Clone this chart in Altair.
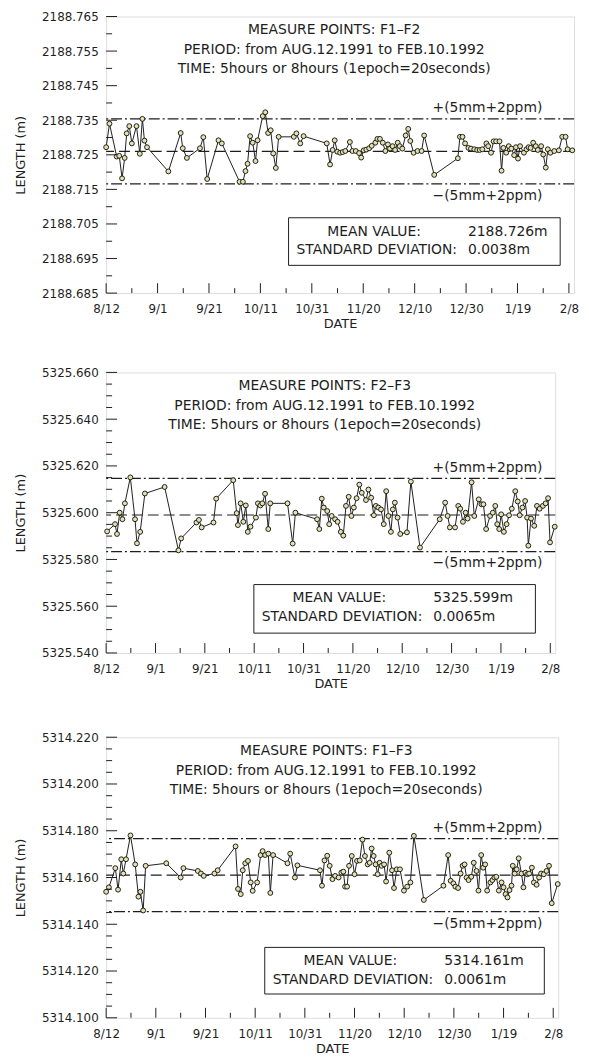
import json
import altair as alt
import pandas as pd

FONT = "DejaVu Sans"
BG = "#FBF8AA"
INK = "#1e1e1e"
MARK_FILL = "#e4e1ae"

# ---- shared x axis (days after AUG.12.1991) ----
X_DOMAIN = [0, 182]
X_TICK_DAYS = [0, 20, 40, 60, 80, 100, 120, 140, 160, 180]
X_TICK_LABELS = ["8/12", "9/1", "9/21", "10/11", "10/31", "11/20", "12/10", "12/30", "1/19", "2/8"]
X_MINOR_DAYS = [10, 30, 50, 70, 90, 110, 130, 150, 170]

PERIOD = "PERIOD: from AUG.12.1991 to FEB.10.1992"
TIME = "TIME: 5hours or 8hours (1epoch=20seconds)"

# ---- F1-F2 ----
P1_DAYS = [0.0, 1.3, 4.1, 5.1, 6.2, 7.2, 8.0, 9.0, 10.0, 11.8, 13.1, 14.1, 14.9, 15.9, 24.2, 29.0, 29.8,
           31.4, 36.5, 37.8, 39.3, 43.7, 45.0, 51.9, 53.2, 54.2, 55.0, 56.0, 57.0, 58.1, 58.9, 60.9, 61.9,
           63.0, 64.0, 65.0, 66.0, 67.1, 73.0, 74.0, 75.5, 76.8, 85.8, 87.1, 88.1, 88.9, 89.9, 91.0, 92.0,
           93.0, 94.8, 95.8, 97.1, 98.4, 99.2, 100.2, 101.2, 102.3, 103.3, 104.7, 105.5, 106.5, 107.6,
           108.6, 109.6, 110.4, 111.4, 112.4, 113.4, 114.2, 115.2, 116.5, 117.5, 118.3, 119.6, 121.1,
           122.7, 123.7, 127.6, 136.8, 137.6, 138.6, 139.6, 140.9, 141.9, 143.2, 144.3, 145.3, 146.3,
           147.9, 148.6, 149.7, 150.7, 151.7, 153.0, 153.8, 154.5, 155.6, 156.6, 157.6, 158.7, 159.4,
           160.2, 161.0, 162.5, 163.5, 164.3, 165.1, 166.1, 167.1, 167.9, 169.2, 170.0, 171.0, 171.8,
           172.8, 174.3, 176.1, 177.4, 178.7, 179.5, 181.3]
P1_LENGTH = [2188.7272, 2188.7340, 2188.7245, 2188.7247, 2188.7182, 2188.7241, 2188.7312, 2188.7333,
             2188.7283, 2188.7333, 2188.7253, 2188.7354, 2188.7291, 2188.7272, 2188.7202, 2188.7313,
             2188.7269, 2188.7241, 2188.7269, 2188.7301, 2188.7180, 2188.7292, 2188.7283, 2188.7172,
             2188.7172, 2188.7203, 2188.7224, 2188.7304, 2188.7285, 2188.7232, 2188.7292, 2188.7362,
             2188.7373, 2188.7313, 2188.7321, 2188.7254, 2188.7212, 2188.7302, 2188.7302, 2188.7312,
             2188.7283, 2188.7304, 2188.7283, 2188.7222, 2188.7264, 2188.7292, 2188.7259, 2188.7256,
             2188.7258, 2188.7261, 2188.7287, 2188.7261, 2188.7261, 2188.7255, 2188.7242, 2188.7263,
             2188.7265, 2188.7269, 2188.7276, 2188.7285, 2188.7296, 2188.7296, 2188.7285, 2188.7261,
             2188.7280, 2188.7268, 2188.7275, 2188.7264, 2188.7285, 2188.7275, 2188.7268, 2188.7306,
             2188.7325, 2188.7290, 2188.7256, 2188.7261, 2188.7261, 2188.7306, 2188.7192, 2188.7240,
             2188.7302, 2188.7302, 2188.7283, 2188.7270, 2188.7268, 2188.7266, 2188.7264, 2188.7264,
             2188.7266, 2188.7283, 2188.7275, 2188.7256, 2188.7289, 2188.7289, 2188.7289, 2188.7204,
             2188.7270, 2188.7256, 2188.7275, 2188.7268, 2188.7249, 2188.7272, 2188.7239, 2188.7275,
             2188.7256, 2188.7266, 2188.7272, 2188.7270, 2188.7285, 2188.7275, 2188.7264, 2188.7275,
             2188.7251, 2188.7213, 2188.7266, 2188.7256, 2188.7261, 2188.7263, 2188.7302, 2188.7302,
             2188.7266, 2188.7263]
P1_MEAN = 2188.726
P1_TOL = 0.0094
P1_STD = "0.0038m"
P1_YDOMAIN = [2188.685, 2188.765]
P1_YMAJOR = [2188.685, 2188.695, 2188.705, 2188.715, 2188.725, 2188.735, 2188.745, 2188.755, 2188.765]
P1_YMINOR = [2188.690, 2188.700, 2188.710, 2188.720, 2188.730, 2188.740, 2188.750, 2188.760]

# ---- F2-F3 ----
P2_DAYS = [0.4, 3.6, 4.4, 5.5, 6.6, 7.6, 9.8, 11.7, 12.5, 13.8, 15.7, 23.7, 29.3, 30.4, 36.6, 37.6, 38.7,
           43.5, 44.6, 51.5, 52.9, 53.4, 54.5, 55.6, 56.6, 57.4, 58.5, 60.7, 61.5, 62.5, 63.3, 64.4, 65.7,
           66.5, 73.5, 75.6, 76.7, 85.5, 86.4, 87.4, 88.2, 89.6, 90.4, 91.4, 92.8, 93.8, 95.1, 96.1, 97.2,
           98.3, 99.4, 100.4, 101.5, 102.6, 103.6, 105.3, 106.3, 107.4, 108.5, 109.3, 110.3, 111.4, 112.5,
           113.5, 114.4, 115.4, 116.2, 117.0, 118.1, 119.2, 121.9, 123.5, 127.2, 135.2, 137.4, 138.4,
           139.3, 141.4, 142.7, 143.5, 144.6, 145.7, 146.5, 148.1, 149.2, 151.0, 152.1, 152.9, 154.0,
           155.6, 156.7, 157.7, 158.5, 159.3, 160.1, 161.2, 162.3, 163.3, 164.4, 165.8, 166.8, 167.6,
           168.7, 169.8, 170.6, 171.1, 172.2, 173.5, 174.6, 175.7, 177.0, 178.1, 179.1, 179.9, 181.8]
P2_LENGTH = [5325.5920, 5325.5951, 5325.5909, 5325.6000, 5325.5972, 5325.6040, 5325.6151, 5325.5972,
             5325.5869, 5325.5918, 5325.6082, 5325.6110, 5325.5839, 5325.5890, 5325.5958, 5325.5969,
             5325.5937, 5325.5958, 5325.6060, 5325.6139, 5325.5998, 5325.5947, 5325.6040, 5325.5961,
             5325.6031, 5325.5918, 5325.5940, 5325.5979, 5325.6040, 5325.6031, 5325.6040, 5325.6081,
             5325.5930, 5325.6040, 5325.6040, 5325.5868, 5325.6000, 5325.5972, 5325.5930, 5325.6060,
             5325.6022, 5325.6007, 5325.5951, 5325.5986, 5325.5972, 5325.5961, 5325.5918, 5325.5902,
             5325.6029, 5325.6068, 5325.5986, 5325.6022, 5325.6062, 5325.6120, 5325.6085, 5325.6054,
             5325.6099, 5325.6064, 5325.5989, 5325.6029, 5325.6022, 5325.6014, 5325.5951, 5325.6092,
             5325.5986, 5325.5918, 5325.6014, 5325.6043, 5325.5979, 5325.5909, 5325.5916, 5325.6133,
             5325.5851, 5325.5972, 5325.6043, 5325.5986, 5325.5937, 5325.5937, 5325.6029, 5325.6017,
             5325.5961, 5325.6000, 5325.5975, 5325.6130, 5325.5986, 5325.6057, 5325.6036, 5325.6036,
             5325.5930, 5325.5986, 5325.6000, 5325.6029, 5325.5951, 5325.5930, 5325.5993, 5325.5918,
             5325.5951, 5325.5989, 5325.6017, 5325.6092, 5325.6048, 5325.5989, 5325.6022, 5325.6050,
             5325.5979, 5325.5859, 5325.5975, 5325.5944, 5325.6029, 5325.6017, 5325.6029, 5325.6040,
             5325.6062, 5325.5873, 5325.5940]
P2_MEAN = 5325.599
P2_TOL = 0.01565
P2_STD = "0.0065m"
P2_YDOMAIN = [5325.540, 5325.660]
P2_YMAJOR = [5325.540, 5325.560, 5325.580, 5325.600, 5325.620, 5325.640, 5325.660]
P2_YMINOR = [5325.545, 5325.550, 5325.555, 5325.565, 5325.570, 5325.575, 5325.585, 5325.590, 5325.595,
             5325.605, 5325.610, 5325.615, 5325.625, 5325.630, 5325.635, 5325.645, 5325.650, 5325.655]

# ---- F1-F3 ----
P3_DAYS = [0.0, 1.1, 3.7, 4.8, 6.1, 6.9, 8.0, 9.8, 11.7, 13.0, 13.8, 14.9, 15.9, 24.2, 30.0, 31.1, 36.9,
           38.2, 39.3, 43.6, 44.9, 52.1, 53.1, 54.2, 55.0, 56.0, 57.1, 58.2, 59.0, 60.8, 62.2, 63.0, 64.0,
           65.3, 66.1, 67.2, 73.0, 74.1, 76.0, 77.0, 86.1, 86.9, 87.9, 89.0, 90.0, 91.1, 92.2, 93.6, 94.7,
           95.5, 96.2, 97.0, 97.8, 98.9, 100.0, 101.0, 102.1, 103.2, 104.2, 105.3, 106.1, 106.9, 107.7,
           108.5, 109.3, 110.1, 110.9, 111.9, 112.7, 114.0, 115.1, 115.9, 117.0, 118.3, 119.9, 121.2,
           122.5, 123.9, 127.9, 135.8, 137.7, 138.7, 139.8, 140.6, 141.7, 142.7, 143.5, 144.3, 145.1,
           145.9, 147.0, 148.0, 149.1, 149.9, 151.0, 151.8, 152.6, 153.4, 154.7, 155.5, 156.3, 157.1,
           158.1, 159.2, 160.0, 160.8, 161.6, 162.4, 163.2, 163.7, 164.5, 165.3, 166.1, 167.2, 168.0,
           168.8, 169.6, 170.3, 171.4, 172.2, 173.3, 174.3, 175.1, 176.2, 177.3, 178.3, 179.4, 181.8]
P3_LENGTH = [5314.1539, 5314.1558, 5314.1640, 5314.1548, 5314.1678, 5314.1617, 5314.1678, 5314.1780,
             5314.1656, 5314.1518, 5314.1539, 5314.1459, 5314.1650, 5314.1661, 5314.1600, 5314.1640,
             5314.1628, 5314.1617, 5314.1607, 5314.1617, 5314.1631, 5314.1733, 5314.1551, 5314.1529,
             5314.1631, 5314.1661, 5314.1671, 5314.1579, 5314.1543, 5314.1579, 5314.1696, 5314.1713,
             5314.1696, 5314.1702, 5314.1534, 5314.1696, 5314.1661, 5314.1702, 5314.1600, 5314.1652,
             5314.1631, 5314.1565, 5314.1673, 5314.1693, 5314.1650, 5314.1593, 5314.1607, 5314.1600,
             5314.1621, 5314.1625, 5314.1561, 5314.1561, 5314.1650, 5314.1692, 5314.1614, 5314.1671,
             5314.1673, 5314.1762, 5314.1692, 5314.1656, 5314.1663, 5314.1724, 5314.1692, 5314.1656,
             5314.1614, 5314.1663, 5314.1650, 5314.1656, 5314.1583, 5314.1706, 5314.1631, 5314.1555,
             5314.1635, 5314.1635, 5314.1544, 5314.1561, 5314.1579, 5314.1778, 5314.1504, 5314.1565,
             5314.1696, 5314.1586, 5314.1575, 5314.1561, 5314.1555, 5314.1617, 5314.1650, 5314.1656,
             5314.1600, 5314.1589, 5314.1603, 5314.1663, 5314.1628, 5314.1544, 5314.1696, 5314.1642,
             5314.1656, 5314.1544, 5314.1579, 5314.1589, 5314.1600, 5314.1603, 5314.1544, 5314.1579,
             5314.1558, 5314.1529, 5314.1515, 5314.1546, 5314.1565, 5314.1650, 5314.1617, 5314.1635,
             5314.1682, 5314.1617, 5314.1558, 5314.1621, 5314.1614, 5314.1617, 5314.1642, 5314.1579,
             5314.1569, 5314.1600, 5314.1617, 5314.1614, 5314.1628, 5314.1650, 5314.1490, 5314.1572]
P3_MEAN = 5314.161
P3_TOL = 0.01563
P3_STD = "0.0061m"
P3_YDOMAIN = [5314.100, 5314.220]
P3_YMAJOR = [5314.100, 5314.120, 5314.140, 5314.160, 5314.180, 5314.200, 5314.220]
P3_YMINOR = [5314.105, 5314.110, 5314.115, 5314.125, 5314.130, 5314.135, 5314.145, 5314.150, 5314.155,
             5314.165, 5314.170, 5314.175, 5314.185, 5314.190, 5314.195, 5314.205, 5314.210, 5314.215]

LABEL_EXPR = json.dumps(X_TICK_LABELS).replace('"', "'") + "[round(datum.value / 20)]"


def text_layer(txt, x, y, align="left", size=14):
    return alt.Chart(pd.DataFrame({"t": [txt]})).mark_text(
        align=align, baseline="middle", font=FONT, fontSize=size, color=INK
    ).encode(x=alt.value(x), y=alt.value(y), text="t:N")


def panel(points, days, lengths, mean, tol, std, ymajor, yminor, ydomain, w, h, box):
    xs = alt.Scale(domain=X_DOMAIN, nice=False, zero=False)
    ys = alt.Scale(domain=ydomain, nice=False, zero=False)
    x_axis = alt.Axis(values=X_TICK_DAYS, labelExpr=LABEL_EXPR, title="DATE", grid=False, ticks=False,
                      tickSize=0, domain=False, labelPadding=11, titlePadding=3, labelFont=FONT,
                      labelFontSize=12, titleFont=FONT, titleFontSize=13, titleFontWeight="normal",
                      labelColor=INK, titleColor=INK, labelFlush=False)
    y_axis = alt.Axis(values=ymajor, format=".3f", title="LENGTH (m)", grid=False, ticks=False, tickSize=0,
                      domain=False, labelPadding=8, titlePadding=14, labelFont=FONT, labelFontSize=12,
                      titleFont=FONT, titleFontSize=13, titleFontWeight="normal", labelColor=INK,
                      titleColor=INK)

    def X(field):
        return alt.X(field, scale=xs, axis=x_axis, title="DATE")

    def Y(field):
        return alt.Y(field, scale=ys, axis=y_axis, title="LENGTH (m)")

    df = pd.DataFrame({"day": days, "length": lengths})
    base = alt.Chart(df).encode(x=X("day:Q"), y=Y("length:Q"))
    line = base.mark_line(color=INK, strokeWidth=1)
    dots = base.mark_point(shape="circle", filled=True, color=MARK_FILL, stroke=INK, strokeWidth=1,
                           size=24, opacity=1)

    mean_rule = alt.Chart(pd.DataFrame({"v": [mean]})).mark_rule(
        color=INK, strokeWidth=1.2, strokeDash=[11, 5]
    ).encode(y=Y("v:Q"))
    tol_df = pd.DataFrame({"v": [mean + tol, mean - tol],
                           "t": ["+(5mm+2ppm)", "\u2212(5mm+2ppm)"]})
    tol_rule = alt.Chart(tol_df).mark_rule(
        color=INK, strokeWidth=1.2, strokeDash=[11, 3, 2, 3]
    ).encode(y=Y("v:Q"))
    plus_txt = alt.Chart(tol_df.iloc[[0]]).mark_text(
        align="right", baseline="middle", font=FONT, fontSize=14, color=INK, dy=-11
    ).encode(x=alt.value(440), y=Y("v:Q"), text="t:N")
    minus_txt = alt.Chart(tol_df.iloc[[1]]).mark_text(
        align="right", baseline="middle", font=FONT, fontSize=14, color=INK, dy=12
    ).encode(x=alt.value(440), y=Y("v:Q"), text="t:N")

    # inward tick marks
    ymaj = alt.Chart(pd.DataFrame({"v": ymajor})).mark_rule(color=INK, strokeWidth=1).encode(
        y=Y("v:Q"), x=alt.value(0), x2=alt.value(11))
    ymin = alt.Chart(pd.DataFrame({"v": yminor})).mark_rule(color=INK, strokeWidth=1).encode(
        y=Y("v:Q"), x=alt.value(0), x2=alt.value(6))
    xmaj = alt.Chart(pd.DataFrame({"d": X_TICK_DAYS})).mark_rule(color=INK, strokeWidth=1).encode(
        x=X("d:Q"), y=alt.value(h), y2=alt.value(h - 10))
    xmin = alt.Chart(pd.DataFrame({"d": X_MINOR_DAYS})).mark_rule(color=INK, strokeWidth=1).encode(
        x=X("d:Q"), y=alt.value(h), y2=alt.value(h - 5))

    cx = w / 2 - 6
    titles = [
        text_layer("MEASURE POINTS: " + points, cx, 14, "center"),
        text_layer(PERIOD, cx, 34, "center"),
        text_layer(TIME, cx, 53, "center"),
    ]

    bx0, by0, bx1, by1 = box
    rect = alt.Chart(pd.DataFrame({"k": [0]})).mark_rect(
        fillOpacity=0, stroke=INK, strokeWidth=1
    ).encode(x=alt.value(bx0), x2=alt.value(bx1), y=alt.value(by0), y2=alt.value(by1))
    box_txt = [
        text_layer("MEAN VALUE:", bx0 + 39, by0 + 14),
        text_layer(f"{mean:.3f}m", bx0 + 181, by0 + 14),
        text_layer("STANDARD DEVIATION:", bx0 + 8, by0 + 33),
        text_layer(std, bx0 + 181, by0 + 33),
    ]

    return alt.layer(
        mean_rule, tol_rule, line, dots, ymaj, ymin, xmaj, xmin, plus_txt, minus_txt, rect,
        *titles, *box_txt
    ).properties(width=w, height=h)


p1 = panel("F1\u2013F2", P1_DAYS, P1_LENGTH, P1_MEAN, P1_TOL, P1_STD, P1_YMAJOR, P1_YMINOR, P1_YDOMAIN,
           472, 279, (184, 203, 458, 251))
p2 = panel("F2\u2013F3", P2_DAYS, P2_LENGTH, P2_MEAN, P2_TOL, P2_STD, P2_YMAJOR, P2_YMINOR, P2_YDOMAIN,
           453, 283, (149, 214, 433, 263))
p3 = panel("F1\u2013F3", P3_DAYS, P3_LENGTH, P3_MEAN, P3_TOL, P3_STD, P3_YMAJOR, P3_YMINOR, P3_YDOMAIN,
           456, 283, (160, 212, 442, 259))

top_pair = alt.vconcat(p1, p2, spacing=34)
chart = alt.vconcat(top_pair, p3, spacing=39).properties(
    padding={"left": 6, "top": -3, "right": 2, "bottom": 0},
    background="white",
).configure_view(fill=BG, stroke=INK, strokeWidth=1).configure(font=FONT)

chart.save("out.html", embed_options={"renderer": "svg", "actions": False})
